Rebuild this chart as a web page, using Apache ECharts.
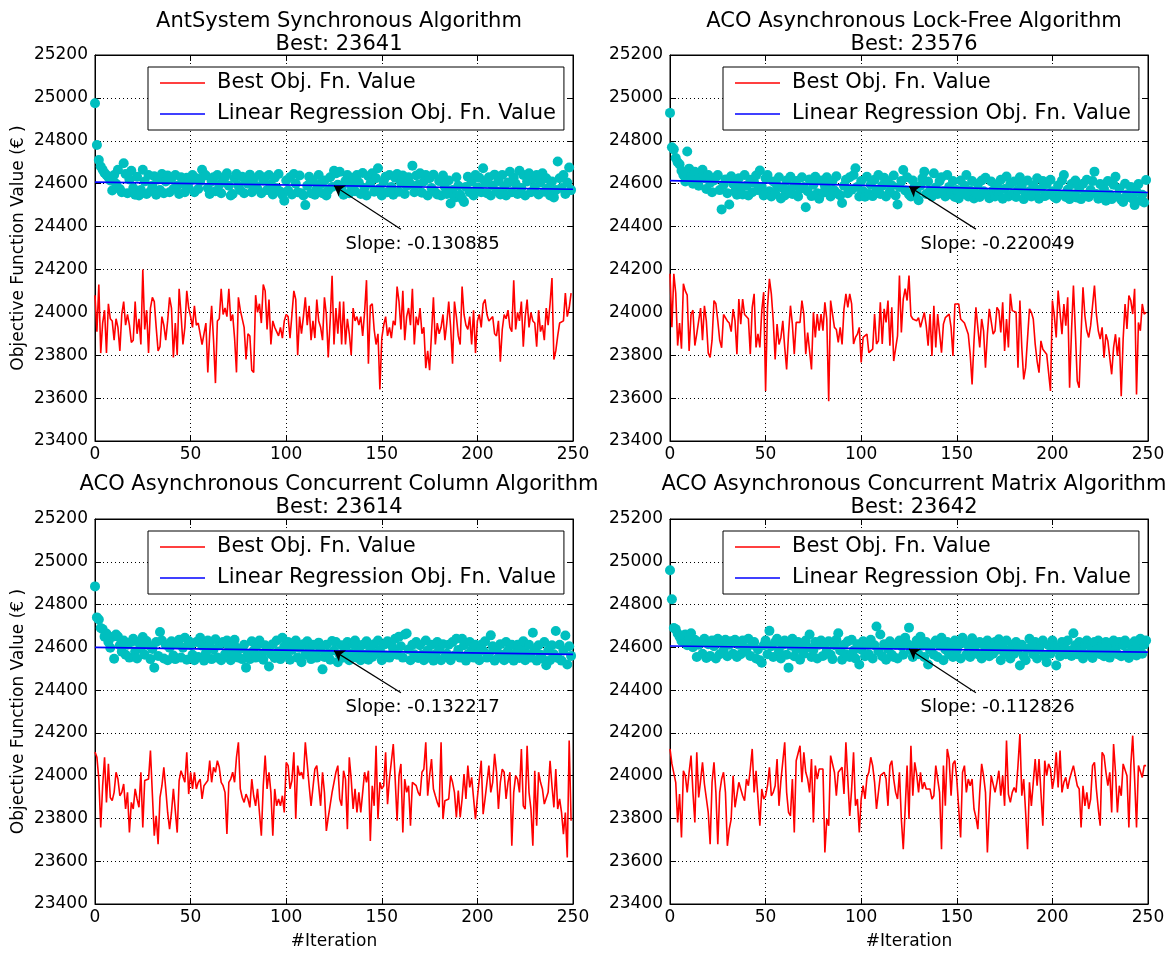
<!DOCTYPE html>
<html lang="en" style="height: 100%">
<head>
  <meta charset="utf-8">
</head>
<body style="height: 100%; margin: 0; background: #fff">
  <div id="container" style="width: 1169px; height: 953px"></div>

  <script type="text/javascript" src="https://cdn.jsdelivr.net/npm/echarts@6.0.0/dist/echarts.min.js"></script>
  <script type="text/javascript">
    var dom = document.getElementById('container');
    var myChart = echarts.init(dom, null, { renderer: 'canvas' });

// subplot titles, best value found, regression fit
var algoNames = [
  'AntSystem Synchronous Algorithm',
  'ACO Asynchronous Lock-Free Algorithm',
  'ACO Asynchronous Concurrent Column Algorithm',
  'ACO Asynchronous Concurrent Matrix Algorithm'
];
var bestFound = [23641, 23576, 23614, 23642];
var fitSlope = [-0.130885, -0.220049, -0.132217, -0.112826];
var fitIntercept = [24607, 24614, 24600, 24606];

var xTicks = [0, 50, 100, 150, 200, 250];
var yTicks = [23400, 23600, 23800, 24000, 24200, 24400, 24600, 24800, 25000, 25200];

// best objective value per iteration (red lines)
var bestSync = [
  24080, 23910, 24130, 23810, 23950, 24010, 23810, 24040, 23970, 23960,
  23870, 23970, 23930, 23820, 23990, 24050, 23940, 23990, 23940, 23860,
  23870, 24050, 23900, 23970, 23850, 24200, 23920, 24010, 23810, 24020,
  24070, 24050, 23930, 23820, 23840, 23980, 23940, 23870, 23960, 24070,
  24020, 23790, 23950, 23800, 24110, 23990, 23850, 23930, 24100, 24020,
  23980, 23930, 24030, 23940, 23950, 23900, 23850, 23900, 23950, 23720,
  23900, 24030, 23870, 23670, 23960, 23970, 24110, 23990, 24020, 23980,
  24110, 23960, 23990, 23880, 23720, 24070, 24010, 24010, 23930, 23780,
  23900, 23890, 23730, 23720, 24080, 24000, 24040, 23950, 24130, 24100,
  23920, 24060, 23850, 23960, 23930, 23910, 23890, 23930, 23880, 23960,
  23990, 23980, 23880, 23990, 24100, 24060, 23800, 23980, 23900, 23980,
  24070, 23940, 24030, 23870, 23960, 23880, 24060, 23960, 23930, 23870,
  24070, 23990, 23790, 23960, 24170, 23850, 24020, 23900, 24050, 23850,
  24050, 23850, 23970, 23900, 23800, 24020, 23960, 23980, 23940, 23980,
  23890, 24000, 24150, 23760, 24030, 24040, 23920, 23850, 23900, 23640,
  23880, 23940, 23980, 23890, 23930, 23880, 23960, 23940, 24120, 24050,
  23920, 24100, 23870, 23980, 24020, 23940, 24110, 23850, 23980, 23940,
  24020, 23900, 23930, 23740, 23820, 23730, 23900, 24070, 23850, 23950,
  23900, 23930, 23990, 23870, 23950, 24050, 23930, 23760, 24050, 23980,
  23890, 23850, 24120, 23990, 23940, 23920, 23980, 23850, 24010, 23810,
  23960, 23990, 23930, 24040, 24060, 23990, 23960, 23960, 23980, 23900,
  23890, 23960, 23770, 23920, 23990, 23970, 24010, 23930, 23910, 24150,
  23920, 24000, 23960, 24050, 23840, 23980, 24060, 23930, 24000, 23960,
  23950, 23840, 24010, 23910, 23940, 23870, 24020, 23940, 24040, 24160,
  23780, 23820, 23890, 23950, 23950, 23960, 24090, 23980, 24020, 24090
];
var bestLockFree = [
  24180, 23930, 24180, 24090, 23845, 23950, 23830, 24133, 24100, 24080,
  23820, 23990, 24010, 23845, 23900, 23960, 24020, 23870, 24030, 23960,
  23810, 23790, 23870, 24055, 24040, 23960, 23870, 23835, 23990, 23990,
  23960, 23950, 23910, 24015, 23960, 23805, 24062, 23945, 24062, 23990,
  23985, 23970, 23805, 24023, 24086, 23836, 23900, 23836, 24008, 24094,
  23633, 24023, 24156, 24086, 23960, 23780, 23945, 23850, 23883, 23960,
  23836, 23734, 23900, 24031, 23945, 23805, 23953, 23953, 23953, 24055,
  23992, 23805, 23906, 23898, 23734, 24000, 23883, 23992, 23914, 23992,
  23914, 24047, 23969, 23586, 24055, 24047, 23930, 23920, 23860, 23930,
  23850, 24016, 24086, 24023, 24086, 24039, 23852, 23883, 23898, 23930,
  23766, 23883, 23890, 23898, 23812, 23820, 23828, 23992, 23852, 23867,
  24047, 23852, 24016, 23953, 24055, 23844, 24023, 23773, 23781, 23890,
  24172, 23906, 24062, 24110, 24055, 24172, 23984, 23969, 23975, 23961,
  23975, 23930, 23938, 24000, 23938, 23844, 23992, 23797, 24031, 23836,
  23992, 23984, 23812, 23945, 23975, 23984, 23992, 23930, 23797, 24039,
  24039, 24039, 23969, 23961, 23950, 23945, 23898, 23805, 23664, 23867,
  24023, 24023, 23836, 23969, 23914, 23742, 23898, 24016, 24016, 23898,
  23914, 24023, 24008, 23906, 24047, 23820, 23969, 23836, 24086, 24008,
  24016, 24000, 23742, 24055, 23836, 23687, 23742, 23742, 24016, 24000,
  23969, 23852, 23773, 23719, 23867, 23828, 23820, 23805, 23805, 23633,
  24055, 23984, 23883, 24102, 24102, 23898, 24039, 23938, 24070, 23648,
  23914, 24125, 23914, 23680, 23648, 23898, 24117, 23984, 23914, 23883,
  23938, 23930, 24125, 23992, 23914, 23875, 23930, 23789, 23898, 23867,
  23867, 23711, 23836, 23898, 23797, 23883, 23609, 23875, 24039, 23922,
  24078, 24055, 23992, 24110, 23617, 23953, 23914, 24039, 23992, 24000
];
var bestColumn = [
  24110, 24086, 23984, 23758, 23953, 24086, 23875, 24055, 23898, 23883,
  23922, 24016, 23984, 23906, 23922, 23961, 23844, 23922, 23734, 23875,
  23844, 23938, 23891, 23852, 24016, 23758, 23977, 23977, 23984, 24117,
  23914, 23719, 23812, 23680, 23898, 23953, 24039, 23938, 23828, 23750,
  23828, 23938, 23836, 23734, 23977, 24023, 24031, 23969, 24109, 23914,
  24016, 23938, 24016, 23938, 23969, 23984, 23891, 23953, 23961, 23977,
  24070, 23969, 24039, 24016, 24070, 24039, 23969, 23953, 23922, 23727,
  23969, 23984, 24016, 23969, 24086, 24156, 23938, 23898, 23875, 23914,
  23891, 23852, 23984, 23906, 23859, 23938, 23828, 23719, 23953, 24094,
  23938, 24016, 23922, 23719, 23938, 23859, 23891, 23859, 23906, 23828,
  24062, 24047, 23938, 23977, 24109, 23797, 24047, 24000, 24016, 23984,
  24156, 24055, 23953, 23859, 23859, 24031, 24047, 24055, 23859, 24016,
  23922, 23742, 23805, 23797, 23922, 23969, 24016, 24047, 23891, 23859,
  24023, 23984, 23750, 24086, 23984, 23844, 23938, 23828, 23922, 23828,
  23922, 24016, 23969, 24023, 23695, 23953, 23859, 24140, 23797, 23969,
  23938, 23953, 24109, 23867, 23984, 23984, 24148, 23984, 23789, 24000,
  24055, 23734, 23984, 23922, 23953, 23766, 23969, 23969, 23953, 23922,
  23906, 24016, 24031, 24156, 23906, 24000, 24078, 23938, 23906, 23875,
  23852, 24156, 23797, 23883, 23875, 23891, 24000, 23969, 23922, 23805,
  23930, 23805, 23891, 24008, 23891, 24047, 23945, 23992, 23984, 23797,
  23898, 23891, 24070, 23820, 23891, 23891, 24047, 23922, 23969, 24102,
  24016, 23844, 23969, 24031, 24016, 23891, 23969, 24016, 23672, 23922,
  24000, 23984, 23922, 24125, 23859, 23844, 24140, 23922, 23844, 23672,
  24023, 23766, 24016, 23969, 23938, 23867, 23875, 23922, 24070, 23953,
  23852, 24031, 23844, 23891, 23828, 23727, 23828, 23617, 24164, 23789
];
var bestMatrix = [
  24125, 24055, 24047, 23969, 23781, 23914, 23711, 24023, 24000, 23922,
  24016, 24094, 23922, 23781, 24109, 23898, 23977, 24062, 23961, 23953,
  23828, 23680, 23969, 24062, 23922, 23680, 23922, 23984, 24016, 23922,
  23672, 23750, 23797, 24000, 23852, 23859, 23969, 23961, 23906, 23883,
  23984, 23953, 24031, 24125, 23922, 24023, 24031, 23766, 23938, 23891,
  23906, 23953, 24039, 23906, 23922, 23953, 24078, 23859, 23977, 23969,
  24156, 23922, 23828, 23812, 23984, 23734, 24070, 24070, 24140, 23969,
  24109, 24016, 23984, 23922, 24078, 23781, 24047, 23984, 24031, 24023,
  24031, 23641, 23797, 23766,
  24094, 24102, 24016, 23906, 24016, 24023, 24039, 23914, 24156, 23984,
  23812, 23938, 24109, 23859, 23891, 23734, 23891, 23953, 23891, 23992,
  24016, 24086, 24047, 23969, 23844, 23844, 24000, 24008, 24016, 23984,
  23859, 24047, 24070, 23984, 23922, 23891, 24016, 23797, 23656, 23844,
  24047, 23797, 24140, 23906, 24062, 24008, 23922, 24016, 23938, 23969,
  23938, 23945, 23938, 23891, 23906, 24047, 24047, 23922, 23656, 24047,
  23859, 24125, 24078, 23906, 24055, 24070, 23984, 23984, 23711, 24016,
  24047, 23922, 23984, 23953, 23984, 23844, 23805, 23750, 23922, 24055,
  24000, 23922, 23641, 23844, 24000,
  24008, 23922, 23969, 24023, 23906, 24000, 23859, 24164, 23914, 23875,
  23922, 23945, 23922, 24047, 24195, 23906, 23984, 23828, 23656, 23969,
  23859, 23852, 24078, 23953, 24078, 24070, 23766, 24070, 24000, 24055,
  24031, 23938, 23992, 24109, 23945, 24117, 23922, 23969, 23992, 23938,
  23984, 24016, 24047, 24000, 23953, 23938, 23758, 23953,
  23859, 23922, 23844, 23891, 24047, 24062, 23938, 23844, 23766, 24109,
  24094, 24016, 23953, 24016, 23828, 24148, 24016, 23828, 23953, 23906,
  24055, 24062, 24000, 23758, 24047, 24187, 23984, 23758, 24047, 24039,
  23992, 24047, 24047
];

// objective value of each iteration's colony (cyan dots)
var iterSync = [
  24975, 24780, 24710, 24680, 24665, 24650, 24640, 24630, 24615, 24568,
  24640, 24600, 24665, 24575, 24560, 24695, 24645, 24555, 24620, 24660,
  24580, 24548, 24632, 24545, 24570, 24665, 24610, 24552, 24640, 24565,
  24590, 24635, 24548, 24620, 24570, 24645, 24555, 24610, 24638, 24560,
  24625, 24575, 24640, 24590, 24552, 24630, 24600, 24560, 24628, 24580,
  24615, 24640, 24560, 24625, 24575, 24612, 24665, 24645, 24638, 24580,
  24552, 24610, 24630, 24565, 24640, 24595, 24555, 24618, 24630, 24648,
  24590, 24545, 24552, 24625, 24645, 24590, 24570, 24632, 24555, 24610,
  24600, 24642, 24560, 24625, 24590, 24575, 24640, 24555, 24615, 24630,
  24570, 24640, 24595, 24550, 24628, 24580, 24645, 24562, 24548, 24520,
  24615, 24568, 24630, 24550, 24645, 24600, 24560, 24638, 24555, 24545,
  24500, 24590, 24632, 24555, 24612, 24548, 24575, 24640, 24598, 24555,
  24615, 24545, 24570, 24630, 24585, 24660, 24648, 24595, 24655, 24580,
  24548, 24612, 24640, 24555, 24590, 24628, 24565, 24640, 24605, 24552,
  24650, 24580, 24545, 24635, 24600, 24648, 24562, 24625, 24672, 24578,
  24545, 24610, 24632, 24560, 24640, 24585, 24548, 24628, 24645, 24562,
  24605, 24638, 24552, 24590, 24630, 24598, 24684, 24560, 24638, 24595,
  24648, 24558, 24610, 24640, 24545, 24625, 24580, 24642, 24560, 24550,
  24612, 24545, 24638, 24585, 24552, 24615, 24508, 24570, 24535, 24630,
  24590, 24548, 24530, 24515, 24585, 24632, 24560, 24610, 24545, 24640,
  24582, 24628, 24560, 24672, 24605, 24555, 24630, 24545, 24590, 24642,
  24565, 24612, 24550, 24640, 24585, 24545, 24605, 24655, 24560, 24628,
  24600, 24552, 24660, 24580, 24640, 24545, 24610, 24648, 24560, 24625,
  24585, 24640, 24550, 24605, 24648, 24562, 24625, 24580, 24545, 24610,
  24536, 24570, 24703, 24625, 24580, 24640, 24552, 24605, 24675, 24570
];
var iterLockFree = [
  24930, 24770, 24760, 24720, 24700, 24690, 24660, 24640, 24610, 24750,
  24670, 24635, 24600, 24655, 24620, 24590, 24650, 24665, 24625, 24575,
  24640, 24605, 24560, 24615, 24630, 24640, 24570, 24480, 24595, 24620,
  24555, 24503, 24635, 24600, 24565, 24548, 24625, 24585, 24550, 24640,
  24590, 24545, 24618, 24560, 24605, 24638, 24570, 24661, 24585, 24545,
  24625, 24640, 24565, 24540, 24610, 24555, 24590, 24630, 24531, 24580,
  24545, 24615, 24570, 24632, 24552, 24590, 24612, 24540, 24575, 24630,
  24585, 24490, 24565, 24620, 24542, 24595, 24632, 24555, 24530, 24615,
  24558, 24590, 24630, 24570, 24540, 24612, 24568, 24635, 24552, 24545,
  24510, 24590, 24618, 24555, 24630, 24572, 24640, 24672, 24585, 24540,
  24612, 24565, 24539, 24632, 24552, 24595, 24542, 24618, 24570, 24640,
  24552, 24590, 24628, 24540, 24610, 24565, 24592, 24638, 24545, 24503,
  24585, 24612, 24664, 24568, 24630, 24550, 24540, 24615, 24585, 24560,
  24523, 24590, 24625, 24656, 24552, 24610, 24568, 24540, 24648, 24582,
  24552, 24612, 24630, 24565, 24540, 24640, 24585, 24550, 24612, 24538,
  24570, 24531, 24615, 24552, 24590, 24640, 24540, 24568, 24612, 24531,
  24555, 24598, 24538, 24615, 24565, 24628, 24550, 24532, 24610, 24568,
  24540, 24595, 24552, 24618, 24530, 24575, 24633, 24540, 24598, 24552,
  24610, 24538, 24570, 24630, 24590, 24528, 24555, 24615, 24565, 24540,
  24592, 24552, 24625, 24530, 24575, 24612, 24542, 24598, 24550, 24618,
  24565, 24538, 24531, 24592, 24548, 24615, 24640, 24538, 24572, 24528,
  24598, 24550, 24615, 24535, 24578, 24528, 24600, 24548, 24618, 24538,
  24570, 24612, 24656, 24552, 24530, 24598, 24540, 24575, 24520, 24612,
  24550, 24528, 24595, 24632, 24540, 24578, 24525, 24515, 24600, 24550,
  24538, 24585, 24530, 24500, 24562, 24598, 24522, 24548, 24512, 24617
];
var iterColumn = [
  24885, 24740, 24730, 24690, 24685, 24650, 24665, 24625, 24598, 24648,
  24547, 24660, 24650, 24610, 24580, 24632, 24565, 24612, 24552, 24625,
  24640, 24580, 24548, 24622, 24595, 24648, 24565, 24630, 24610, 24545,
  24592, 24505, 24625, 24560, 24672, 24632, 24548, 24612, 24540, 24598,
  24628, 24562, 24545, 24615, 24635, 24552, 24598, 24645, 24542, 24630,
  24610, 24565, 24540, 24625, 24555, 24645, 24608, 24538, 24572, 24632,
  24612, 24545, 24590, 24638, 24552, 24610, 24540, 24625, 24568, 24632,
  24605, 24540, 24570, 24635, 24598, 24552, 24592, 24545, 24612, 24505,
  24570, 24545, 24628, 24585, 24552, 24612, 24632, 24565, 24542, 24610,
  24585, 24510, 24568, 24615, 24550, 24632, 24580, 24545, 24645, 24605,
  24565, 24625, 24542, 24588, 24612, 24632, 24552, 24598, 24530, 24615,
  24565, 24628, 24590, 24545, 24612, 24568, 24552, 24622, 24590, 24497,
  24555, 24612, 24570, 24542, 24630, 24585, 24625, 24530, 24565, 24610,
  24552, 24592, 24625, 24540, 24572, 24615, 24632, 24552, 24590, 24540,
  24612, 24565, 24628, 24542, 24590, 24555, 24615, 24570, 24632, 24585,
  24540, 24612, 24562, 24628, 24552, 24610, 24588, 24640, 24565, 24650,
  24605, 24552, 24660, 24665, 24590, 24540, 24612, 24568, 24625, 24550,
  24610, 24565, 24540, 24632, 24585, 24552, 24612, 24538, 24568, 24625,
  24590, 24540, 24615, 24555, 24570, 24612, 24540, 24625, 24562, 24640,
  24588, 24552, 24640, 24610, 24538, 24568, 24625, 24585, 24552, 24612,
  24570, 24540, 24612, 24585, 24628, 24552, 24568, 24656, 24605, 24538,
  24590, 24552, 24615, 24565, 24540, 24625, 24585, 24550, 24612, 24538,
  24572, 24612, 24550, 24590, 24628, 24540, 24570, 24612, 24552, 24668,
  24588, 24538, 24610, 24565, 24548, 24625, 24516, 24585, 24540, 24610,
  24568, 24676, 24550, 24612, 24538, 24585, 24655, 24520, 24605, 24560
];
var iterMatrix = [
  24960, 24825, 24690, 24685, 24665, 24650, 24630, 24655, 24660, 24610,
  24648, 24666, 24600, 24635, 24555, 24612, 24625, 24570, 24640, 24550,
  24615, 24560, 24632, 24605, 24548, 24640, 24568, 24625, 24585, 24635,
  24558, 24612, 24628, 24570, 24635, 24555, 24612, 24568, 24632, 24598,
  24580, 24640, 24560, 24612, 24625, 24548, 24590, 24540, 24528, 24610,
  24632, 24568, 24677, 24605, 24555, 24625, 24640, 24582, 24548, 24612,
  24632, 24565, 24505, 24608, 24640, 24558, 24590, 24625, 24542, 24610,
  24570, 24632, 24600, 24660, 24555, 24588, 24625, 24548, 24612, 24632,
  24560, 24612, 24585, 24628, 24565, 24545, 24610, 24635, 24666, 24585,
  24542, 24612, 24568, 24628, 24555, 24635, 24585, 24548, 24615, 24520,
  24590, 24628, 24558, 24612, 24568, 24635, 24548, 24610, 24697, 24582,
  24660, 24558, 24615, 24542, 24592, 24628, 24565, 24555, 24612, 24548,
  24632, 24605, 24565, 24645, 24618, 24692, 24585, 24555, 24612, 24632,
  24568, 24650, 24608, 24555, 24625, 24520, 24588, 24612, 24565, 24632,
  24555, 24610, 24645, 24540, 24590, 24625, 24568, 24612, 24555, 24632,
  24585, 24612, 24548, 24645, 24620, 24565, 24608, 24555, 24642, 24585,
  24610, 24568, 24625, 24548, 24612, 24585, 24632, 24558, 24610, 24570,
  24625, 24588, 24638, 24540, 24610, 24568, 24632, 24585, 24548, 24612,
  24570, 24625, 24590, 24515, 24612, 24558, 24540, 24592, 24640, 24605,
  24568, 24625, 24548, 24590, 24612, 24632, 24560, 24530, 24610, 24570,
  24632, 24605, 24515, 24588, 24558, 24625, 24608, 24568, 24632, 24585,
  24560, 24666, 24610, 24568, 24625, 24588, 24548, 24612, 24632, 24570,
  24608, 24550, 24625, 24585, 24632, 24568, 24610, 24558, 24625, 24585,
  24552, 24612, 24632, 24588, 24568, 24625, 24558, 24610, 24632, 24572,
  24550, 24610, 24585, 24628, 24562, 24605, 24640, 24570, 24612, 24632
];

var bestLines = [bestSync, bestLockFree, bestColumn, bestMatrix];
var iterDots = [iterSync, iterLockFree, iterColumn, iterMatrix];

// layout
var FONT = 'DejaVu Sans';
var panels = [
  { left: 95, top: 55, width: 478, height: 386, titleTop: 5 },
  { left: 670, top: 55, width: 478, height: 386, titleTop: 5 },
  { left: 95, top: 519, width: 478, height: 385, titleTop: 468 },
  { left: 670, top: 519, width: 478, height: 385, titleTop: 468 }
];
var ARROW_AT = 125;          // iteration the slope arrow points to
var TEXT_AT = [131, 24318];   // where the slope text sits
var TAIL_AT = [160, 24388];   // start of the arrow

var option = {
  animation: false,
  backgroundColor: '#fff',
  title: [],
  legend: [],
  grid: [],
  xAxis: [],
  yAxis: [],
  series: []
};

function tickStyle() {
  return { show: true, inside: true, length: 6, lineStyle: { color: '#000', width: 1 } };
}

panels.forEach(function (p, i) {
  var bottomRow = i >= 2;
  var leftCol = i % 2 === 0;

  option.title.push({
    text: algoNames[i] + '\nBest: ' + bestFound[i],
    left: p.left + p.width / 2,
    top: p.titleTop,
    textAlign: 'center',
    textStyle: { fontFamily: FONT, fontSize: 21, fontWeight: 'normal', color: '#000', lineHeight: 23 }
  });

  option.grid.push({
    left: p.left, top: p.top, width: p.width, height: p.height,
    show: true, borderColor: '#000', borderWidth: 1, backgroundColor: '#fff'
  });

  option.legend.push({
    data: [
      { name: 'Best Obj. Fn. Value', icon: 'rect' },
      { name: 'Linear Regression Obj. Fn. Value', icon: 'rect' }
    ],
    orient: 'vertical',
    left: p.left + 53,
    top: p.top + 12,
    padding: [4, 8, 4, 12],
    itemGap: 7,
    itemWidth: 45,
    itemHeight: 1.6,
    backgroundColor: '#fff',
    borderColor: '#000',
    borderWidth: 1,
    borderRadius: 0,
    z: 20,
    textStyle: { fontFamily: FONT, fontSize: 21, color: '#000', padding: [0, 0, 0, 7], lineHeight: 24 }
  });

  option.xAxis.push({
    type: 'value', gridIndex: i, min: 0, max: 250, interval: 50,
    name: bottomRow ? '#Iteration' : '',
    nameLocation: 'middle', nameGap: 29,
    nameTextStyle: { fontFamily: FONT, fontSize: 17, color: '#000' },
    axisLine: { show: true, onZero: false, lineStyle: { color: '#000' } },
    axisTick: tickStyle(),
    axisLabel: { fontFamily: FONT, fontSize: 17, color: '#000', margin: 5,
      formatter: function (v) { return xTicks.indexOf(v) >= 0 ? String(v) : ''; } },
    splitLine: { show: true, lineStyle: { color: '#000', type: [1, 3], width: 1 } }
  });
  option.xAxis.push({
    type: 'value', gridIndex: i, min: 0, max: 250, interval: 50, position: 'top',
    axisLine: { show: true, onZero: false, lineStyle: { color: '#000' } },
    axisTick: tickStyle(), axisLabel: { show: false }, splitLine: { show: false }
  });

  option.yAxis.push({
    type: 'value', gridIndex: i, min: 23400, max: 25200, interval: 200,
    name: leftCol ? 'Objective Function Value (€ )' : '',
    nameLocation: 'middle', nameGap: 68, nameRotate: 90,
    nameTextStyle: { fontFamily: FONT, fontSize: 17, color: '#000' },
    axisLine: { show: true, onZero: false, lineStyle: { color: '#000' } },
    axisTick: tickStyle(),
    axisLabel: { fontFamily: FONT, fontSize: 17, color: '#000', margin: 7,
      formatter: function (v) { return yTicks.indexOf(v) >= 0 ? String(v) : ''; } },
    splitLine: { show: true, lineStyle: { color: '#000', type: [1, 3], width: 1 } }
  });
  option.yAxis.push({
    type: 'value', gridIndex: i, min: 23400, max: 25200, interval: 200, position: 'right',
    axisLine: { show: true, onZero: false, lineStyle: { color: '#000' } },
    axisTick: tickStyle(), axisLabel: { show: false }, splitLine: { show: false }
  });

  var xa = 2 * i, ya = 2 * i;
  var fitAt = function (x) { return fitIntercept[i] + fitSlope[i] * x; };

  option.series.push({
    name: 'Best Obj. Fn. Value', type: 'line', xAxisIndex: xa, yAxisIndex: ya,
    data: bestLines[i].map(function (v, k) { return [k, v]; }),
    symbol: 'none', color: '#ff0000', lineStyle: { color: '#ff0000', width: 1.6 }, z: 2
  });
  option.series.push({
    name: 'Iteration Obj. Fn. Value', type: 'scatter', xAxisIndex: xa, yAxisIndex: ya,
    data: iterDots[i].map(function (v, k) { return [k, v]; }),
    symbolSize: 10, itemStyle: { color: '#00bfbf', opacity: 1 }, z: 3
  });
  option.series.push({
    name: 'Linear Regression Obj. Fn. Value', type: 'line', xAxisIndex: xa, yAxisIndex: ya,
    data: [[0, fitAt(0)], [250, fitAt(250)]],
    symbol: 'none', color: '#0000ff', lineStyle: { color: '#0000ff', width: 1.6 }, z: 4
  });
  option.series.push({
    name: 'slope note', type: 'scatter', xAxisIndex: xa, yAxisIndex: ya,
    data: [TEXT_AT], symbolSize: 0, silent: true, z: 5,
    itemStyle: { color: '#000', opacity: 1 },
    label: { show: true, position: 'right', distance: 0, formatter: 'Slope: ' + fitSlope[i],
      fontFamily: FONT, fontSize: 18, color: '#000', opacity: 1, textBorderWidth: 0 },
    markLine: {
      silent: true, symbol: ['none', 'arrow'], symbolSize: 10,
      label: { show: false },
      lineStyle: { color: '#000', width: 1.2, type: 'solid' },
      data: [[{ coord: TAIL_AT }, { coord: [ARROW_AT, fitAt(ARROW_AT)] }]]
    }
  });
});

    if (option && typeof option === 'object') {
      myChart.setOption(option);
    }

    window.addEventListener('resize', myChart.resize);
  </script>
</body>
</html>
